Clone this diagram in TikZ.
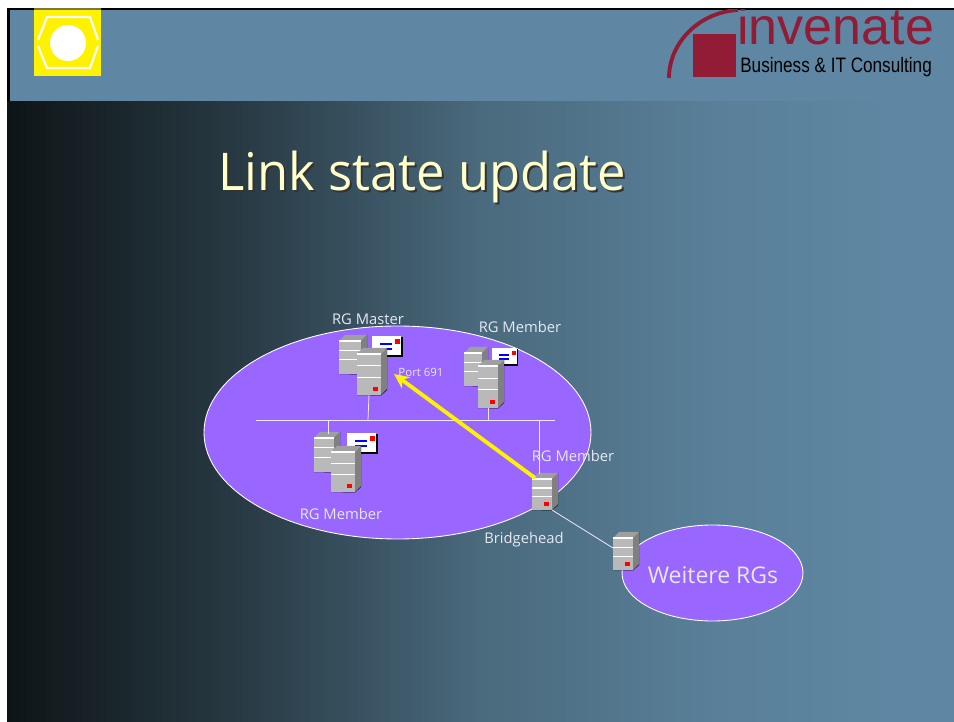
\documentclass[tikz,border=0pt]{standalone}
\usepackage{fontspec}
\setmainfont{Open Sans}
\newfontfamily\logofont{Liberation Sans}
\usetikzlibrary{arrows.meta}

\definecolor{bandblue}{RGB}{95,135,163}
\definecolor{rgviolet}{RGB}{153,102,255}
\definecolor{logored}{RGB}{146,27,53}
\definecolor{titlecream}{RGB}{255,255,204}
\definecolor{labelgrey}{RGB}{230,232,245}

\pgfdeclarehorizontalshading{slidefade}{100bp}{
    rgb(0bp)=(0.055,0.08,0.09);
    rgb(25bp)=(0.055,0.08,0.09);
    rgb(37.5bp)=(0.16,0.23,0.27);
    rgb(50bp)=(0.29,0.415,0.49);
    rgb(62.5bp)=(0.35,0.5,0.6);
    rgb(72bp)=(0.373,0.53,0.64);
    rgb(100bp)=(0.373,0.53,0.64)}

\tikzset{
    rgcloud/.style={fill=rgviolet, draw=white, line width=0.5pt},
    lanline/.style={draw=white!85!rgviolet, line width=0.45pt},
    rglabel/.style={text=labelgrey, inner sep=0pt, font=\fontsize{8.4pt}{10pt}\selectfont},
    pics/serverbox/.style n args={3}{code={
        \fill[black] (0,#2+0.5) -- (#1,#2+0.5) -- (#1+6,#2-5) -- (#1+6,-6) -- (#1,#2) -- cycle;
        \fill[gray!75] (0,0) -- (6,-6) -- (#1+6,-6) -- (#1,0) -- cycle;
        \fill[gray] (#1,0) -- (#1+6,-6) -- (#1+6,#2-6) -- (#1,#2) -- cycle;
        \fill[gray!55] (0,0) rectangle (#1,#2);
        \draw[white, line width=0.6pt] (0,0) -- (#1,0);
        \draw[white, line width=0.6pt] (0,#2*0.29) -- (#1,#2*0.29);
        \draw[white, line width=0.6pt] (0,#2*0.57) -- (#1,#2*0.57);
        \fill[#3] (#1-8,#2-8) rectangle (#1-3,#2-4);
        \coordinate (-top) at (#1/2,0);
        \coordinate (-bot) at (#1/2,#2);
        \coordinate (-cor) at (#1,#2);
    }},
    pics/mailbox/.style={code={
        \fill[black] (1,1) rectangle (31,21);
        \fill[white] (0,0) rectangle (29,19);
        \draw[blue, line width=1pt] (8,8) -- (20,8);
        \draw[blue, line width=1pt] (8,13) -- (20,13);
        \fill[red] (23,3) rectangle (28,8);
    }}
}

\begin{document}
\begin{tikzpicture}[x=0.02cm, y=-0.02cm]
    \useasboundingbox (0,0) rectangle (954,722);
    \fill[white] (0,0) rectangle (954,722);

    % Slide background
    \shade[shading=slidefade] (7,101) rectangle (954,722);
    \fill[black] (7,8) rectangle (954,101);
    \fill[bandblue] (10,10) rectangle (954,101);

    % Yellow badge
    \fill[yellow] (34,8) rectangle (101,76);
    \fill[black!60!yellow] (34,8) rectangle (101,10);
    \fill[white] (68,43) circle (18);
    \draw[white, line width=1.2pt] (38,40) -- (47,17) -- (90,17) -- (98,40);
    \draw[white, line width=1.2pt] (38,46) -- (47,68) -- (90,68) -- (98,46);

    % Company logo
    \begin{scope}
        \clip (650,10) rectangle (954,101);
        \draw[logored, line width=2.2pt] (669,78) .. controls (669,42) and (700,12) .. (738,10);
        \node[anchor=base west, inner sep=0pt, text=logored, font=\logofont\fontsize{29.6pt}{30pt}\selectfont] (logoname) at (737,45) {invenate};
    \end{scope}
    \fill[logored] (693,34) rectangle (736,77);
    \node[anchor=base west, inner sep=0pt, xscale=0.82, font=\logofont\fontsize{11.9pt}{12pt}\selectfont] (logotag) at (740,73) {Business \& IT Consulting};

    % Title
    \node[anchor=base west, inner sep=0pt, xscale=0.975, text=black!80, font=\fontsize{29.6pt}{30pt}\selectfont] (titleshadow) at (220,193) {Link state update};
    \node[anchor=base west, inner sep=0pt, xscale=0.975, text=titlecream, font=\fontsize{29.6pt}{30pt}\selectfont] (title) at (218,191) {Link state update};

    % Replication groups
    \draw[rgcloud] (397.5,432.5) ellipse [x radius=193.5, y radius=106.5];
    \draw[rgcloud] (712.5,573) ellipse [x radius=90.5, y radius=48];

    % Master group
    \pic (masterback) at (339,341) {serverbox={22}{33}{gray!55}};
    \pic at (372,336) {mailbox};
    \pic (master) at (357,354) {serverbox={24}{41}{red}};

    % Upper member group
    \pic (upperback) at (464,353) {serverbox={18}{33}{gray!55}};
    \pic[scale=0.85] at (492,348) {mailbox};
    \pic (upper) at (478,366) {serverbox={20}{42}{red}};

    % Lower member group
    \pic (lowerback) at (314,438) {serverbox={20}{34}{gray!55}};
    \pic at (347,433) {mailbox};
    \pic (lower) at (331,452) {serverbox={24}{40}{red}};

    % Bridgehead servers
    \pic (bridge) at (532,479) {serverbox={20}{31}{red}};
    \pic (remote) at (613,538) {serverbox={20}{32}{red}};

    % LAN segment
    \coordinate (lanleft) at (256,420);
    \coordinate (lanright) at (555,420);
    \coordinate (masterdrop) at (368,420);
    \coordinate (upperdrop) at (488,420);
    \coordinate (lowerdrop) at (328,420);
    \coordinate (bridgedrop) at (539,420);
    \coordinate (remotein) at (613,548);
    \draw[lanline] (lanleft) -- (lanright);
    \draw[lanline] (master-bot) -- (masterdrop);
    \draw[lanline] (upper-bot) -- (upperdrop);
    \draw[lanline] (lowerback-top) ++(4,-4) -- (lowerdrop);
    \draw[lanline] (bridgedrop) -- (539,474);
    \draw[lanline] (bridge-cor) -- (remotein);

    % Update arrow
    \coordinate (portend) at (394,374);
    \coordinate (bridgeout) at (535,478);
    \draw[-{Stealth[length=15pt*0.567, width=14pt*0.567]}, yellow, line width=2.2pt] (bridgeout) -- (portend);

    % Labels
    \node[rglabel] (lblmaster) at (368,319) {RG Master};
    \node[rglabel] (lblupper) at (520,327) {RG Member};
    \node[rglabel, font=\fontsize{6.5pt}{8pt}\selectfont] (lblport) at (421,372) {Port 691};
    \node[rglabel] (lblbridge) at (573,456) {RG Member};
    \node[rglabel] (lbllower) at (341,514) {RG Member};
    \node[rglabel] (lblhead) at (524,540) {Bridgehead};
    \node[text=labelgrey, inner sep=0pt, font=\fontsize{13.1pt}{15pt}\selectfont] (lblother) at (713,575) {Weitere RGs};
\end{tikzpicture}
\end{document}
